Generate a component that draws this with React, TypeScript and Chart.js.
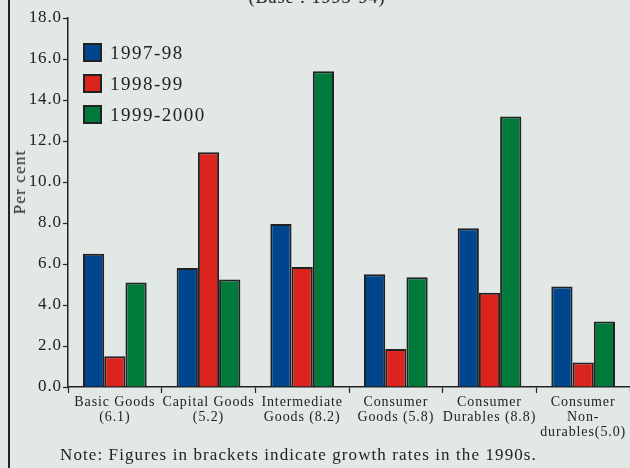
import React, { useEffect, useRef } from "react";
import { Chart, registerables } from "chart.js";

Chart.register(...registerables);

const categories: string[][] = [
  ["Basic Goods", "(6.1)"],
  ["Capital Goods", "(5.2)"],
  ["Intermediate", "Goods (8.2)"],
  ["Consumer", "Goods (5.8)"],
  ["Consumer", "Durables (8.8)"],
  ["Consumer", "Non-", "durables(5.0)"],
];
const seriesNames = ["1997-98", "1998-99", "1999-2000"];
const values1997 = [6.5, 5.8, 7.95, 5.5, 7.75, 4.9];
const values1998 = [1.5, 11.45, 5.85, 1.85, 4.6, 1.2];
const values1999 = [5.1, 5.25, 15.4, 5.35, 13.2, 3.2];
const yMin = 0;
const yMax = 18;
const yStep = 2;
const titleText = "(Base : 1993-94)";
const yTitle = "Per cent";
const noteText = "Note: Figures in brackets indicate growth rates in the 1990s.";

const colors = ["#00468F", "#DC241F", "#007A3B"];
const BG = "#E1E8E5";
const INK = "#222222";
const SERIF = "'Liberation Serif', 'DejaVu Serif', serif";

const spacingPlugin = {
  id: "spacing",
  beforeDraw(chart: any) {
    chart.ctx.letterSpacing = "0.9px";
  },
};

export default function App() {
  const ref = useRef<HTMLCanvasElement>(null);
  useEffect(() => {
    if (!ref.current) return;
    const seriesValues = [values1997, values1998, values1999];
    const chart = new Chart(ref.current, {
      type: "bar",
      data: {
        labels: categories,
        datasets: seriesNames.map((name, i) => ({
          label: name,
          data: seriesValues[i],
          backgroundColor: colors[i],
          borderColor: INK,
          borderWidth: 2,
          barPercentage: 1,
          categoryPercentage: 0.68,
        })),
      },
      options: {
        responsive: false,
        animation: false,
        layout: { padding: { left: 0, right: 0, top: 18, bottom: 0 } },
        plugins: {
          legend: { display: false },
          tooltip: { enabled: false },
          title: { display: false },
        },
        scales: {
          x: {
            afterFit: (s: any) => {
              s.height = 81;
            },
            grid: {
              display: true,
              offset: true,
              drawOnChartArea: false,
              tickLength: 6,
              tickColor: INK,
              tickWidth: 1.2,
            },
            border: { color: INK, width: 1.5 },
            ticks: {
              color: INK,
              maxRotation: 0,
              autoSkip: false,
              padding: 2,
              font: { family: SERIF, size: 14, lineHeight: 1.08 },
            },
          },
          y: {
            min: yMin,
            max: yMax,
            afterFit: (s: any) => {
              s.width = 68;
            },
            grid: {
              display: true,
              drawOnChartArea: false,
              tickLength: 5,
              tickColor: INK,
              tickWidth: 1.2,
            },
            border: { color: INK, width: 1.5 },
            ticks: {
              stepSize: yStep,
              color: INK,
              padding: 1,
              font: { family: SERIF, size: 17 },
              callback: (v: any) => Number(v).toFixed(1),
            },
          },
        },
      },
      plugins: [spacingPlugin],
    });
    return () => chart.destroy();
  }, []);

  return (
    <div
      style={{
        position: "fixed",
        left: 0,
        top: 0,
        width: 630,
        height: 468,
        background: BG,
        overflow: "hidden",
        fontFamily: SERIF,
        color: INK,
      }}
    >
      <div style={{ position: "absolute", left: 8, top: 0, width: 2, height: 468, background: INK }} />
      <div
        style={{
          position: "absolute",
          left: 0,
          width: 630,
          top: -12,
          textAlign: "center",
          fontSize: 18,
          lineHeight: "18px",
          letterSpacing: 1,
        }}
      >
        <span style={{ marginLeft: 4 }}>{titleText}</span>
      </div>
      <canvas ref={ref} width={630} height={468} style={{ position: "absolute", left: 0, top: 0 }} />
      <div
        style={{
          position: "absolute",
          left: 20,
          top: 182,
          transform: "translate(-50%, -50%) rotate(-90deg)",
          fontSize: 17,
          letterSpacing: 1.2,
          whiteSpace: "nowrap",
        }}
      >
        {yTitle}
      </div>
      {seriesNames.map((name, i) => (
        <div
          key={name}
          style={{ position: "absolute", left: 83, top: 43 + i * 31, height: 19, display: "flex", alignItems: "center" }}
        >
          <div
            style={{
              width: 15,
              height: 15,
              background: colors[i],
              border: `2px solid ${INK}`,
            }}
          />
          <span style={{ marginLeft: 8, fontSize: 19, letterSpacing: 1.5, lineHeight: "19px" }}>{name}</span>
        </div>
      ))}
      <div
        style={{
          position: "absolute",
          left: 60,
          top: 446,
          fontSize: 17,
          lineHeight: "18px",
          letterSpacing: 1.1,
          whiteSpace: "nowrap",
        }}
      >
        {noteText}
      </div>
    </div>
  );
}
